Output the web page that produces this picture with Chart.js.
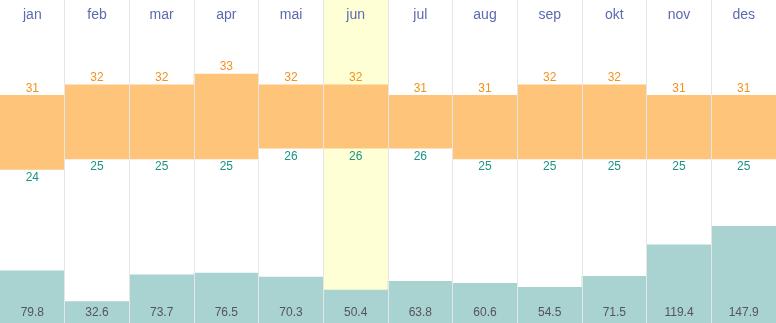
<!DOCTYPE html>
<html>
<head>
<meta charset="utf-8">
<script src="https://cdn.jsdelivr.net/npm/chart.js@4/dist/chart.umd.min.js"></script>
<style>
  html, body { margin: 0; padding: 0; background: #ffffff; }
  #wrap { width: 776px; height: 323px; }
</style>
</head>
<body>
<div id="wrap"><canvas id="c" width="776" height="323"></canvas></div>
<script>
// Monthly climate: temperature range (°C) and precipitation (mm)
const months = ['jan', 'feb', 'mar', 'apr', 'mai', 'jun', 'jul', 'aug', 'sep', 'okt', 'nov', 'des'];
const tempMax = [31, 32, 32, 33, 32, 32, 31, 31, 32, 32, 31, 31];
const tempMin = [24, 25, 25, 25, 26, 26, 26, 25, 25, 25, 25, 25];
const precip = [79.8, 32.6, 73.7, 76.5, 70.3, 50.4, 63.8, 60.6, 54.5, 71.5, 119.4, 147.9];
const highlightMonth = 'jun';

const FONT = '"Liberation Sans", Arial, sans-serif';

// Shaded background behind the highlighted month column
const highlightPlugin = {
  id: 'highlight',
  beforeDraw(chart) {
    const x = chart.scales.x;
    const idx = months.indexOf(highlightMonth);
    if (idx < 0) return;
    const half = (x.getPixelForValue(1) - x.getPixelForValue(0)) / 2;
    const cx = x.getPixelForValue(idx);
    const { top, bottom } = chart.chartArea;
    const ctx = chart.ctx;
    ctx.save();
    ctx.fillStyle = '#ffffd6';
    ctx.fillRect(cx - half, top, half * 2, bottom - top);
    ctx.restore();
  }
};

// Month names, temperature and precipitation value labels
const labelPlugin = {
  id: 'labels',
  afterDatasetsDraw(chart) {
    const ctx = chart.ctx;
    const x = chart.scales.x;
    const yT = chart.scales.yT;
    const yP = chart.scales.yP;
    ctx.save();
    ctx.textAlign = 'center';
    months.forEach((m, i) => {
      const cx = x.getPixelForValue(i);
      ctx.font = '14px ' + FONT;
      ctx.fillStyle = '#5c6ab0';
      ctx.textBaseline = 'middle';
      ctx.fillText(m, cx, 15);

      ctx.font = '12px ' + FONT;
      ctx.fillStyle = '#f0921e';
      ctx.textBaseline = 'bottom';
      ctx.fillText(String(tempMax[i]), cx, yT.getPixelForValue(tempMax[i]) - 1);

      ctx.fillStyle = '#1a9483';
      ctx.textBaseline = 'top';
      ctx.fillText(String(tempMin[i]), cx, yT.getPixelForValue(tempMin[i]) + 2);

      ctx.font = '12px ' + FONT;
      ctx.fillStyle = '#555555';
      ctx.textBaseline = 'middle';
      ctx.fillText(precip[i].toFixed(1), cx, yP.getPixelForValue(0) - 10);
    });
    ctx.restore();
  }
};

new Chart(document.getElementById('c'), {
  type: 'bar',
  data: {
    labels: months,
    datasets: [
      {
        label: 'temperatur',
        data: months.map((_, i) => [tempMin[i], tempMax[i]]),
        yAxisID: 'yT',
        backgroundColor: '#fec47a',
        borderWidth: 0,
        barPercentage: 1,
        categoryPercentage: 1
      },
      {
        label: 'nedbør',
        data: precip,
        yAxisID: 'yP',
        backgroundColor: '#a8d3d1',
        borderWidth: 0,
        barPercentage: 1,
        categoryPercentage: 1
      }
    ]
  },
  options: {
    responsive: false,
    animation: false,
    layout: { padding: 0 },
    plugins: { legend: { display: false }, tooltip: { enabled: false } },
    datasets: { bar: { grouped: false } },
    scales: {
      x: {
        offset: true,
        ticks: { display: false },
        border: { display: false },
        grid: { display: true, offset: true, color: '#e6e6e6', lineWidth: 1, drawTicks: false, z: 1 }
      },
      yT: {
        display: false,
        min: 9.5,
        max: 40
      },
      yP: {
        display: false,
        min: 0,
        max: 494
      }
    }
  },
  plugins: [highlightPlugin, labelPlugin]
});
</script>
</body>
</html>
